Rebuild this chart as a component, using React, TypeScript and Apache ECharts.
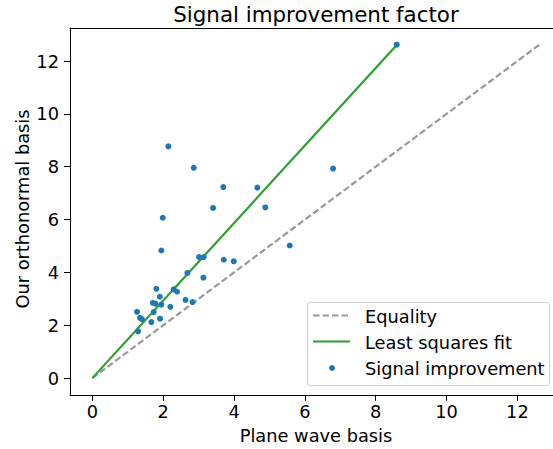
import React, { useEffect, useRef } from "react";
import * as echarts from "echarts";

// Plane wave basis (x) vs our orthonormal basis (y)
const planeWave = [
  2.146, 2.863, 3.698, 4.658, 3.408, 4.884, 1.988, 1.948, 3.012, 3.145,
  3.71, 3.992, 2.682, 3.134, 1.807, 2.298, 2.391, 1.903, 1.705, 1.779,
  1.948, 2.202, 2.631, 2.829, 1.262, 1.733, 1.347, 1.398, 1.666, 1.911,
  1.29, 6.796, 5.573, 8.594,
];
const orthonormal = [
  8.77, 7.96, 7.23, 7.21, 6.44, 6.46, 6.07, 4.83, 4.58, 4.58,
  4.48, 4.42, 3.98, 3.8, 3.38, 3.36, 3.27, 3.08, 2.85, 2.82,
  2.78, 2.7, 2.96, 2.88, 2.51, 2.5, 2.28, 2.23, 2.12, 2.25,
  1.77, 7.93, 5.02, 12.62,
];
const equalityRange = [0, 12.62];
const fitSlope = 1.467;
const fitRange = [0, 8.594];
const xTicks = [0, 2, 4, 6, 8, 10, 12];
const yTicks = [0, 2, 4, 6, 8, 10, 12];
const xMin = -0.631;
const xMax = 13.005; // visible part of the x range (axes continue past the image edge)
const yMin = -0.631;
const yMax = 13.251;

const FONT = "DejaVu Sans";
const FS = 17.8;

export default function App() {
  const ref = useRef<HTMLDivElement>(null);
  useEffect(() => {
    if (!ref.current) return;
    const chart = echarts.init(ref.current, undefined, { renderer: "svg" });
    const scatterData = planeWave.map((x, i) => [x, orthonormal[i]]);
    const equalityData = equalityRange.map((v) => [v, v]);
    const fitData = fitRange.map((v) => [v, v * fitSlope]);
    const spine = { show: true, onZero: false, lineStyle: { color: "#000", width: 1 } };
    chart.setOption({
      animation: false,
      backgroundColor: "#fff",
      grid: {
        left: 70,
        top: 28,
        right: 0,
        height: 366.8,
      },
      xAxis: [
        {
          type: "value",
          min: xMin,
          max: xMax,
          position: "bottom",
          splitLine: { show: false },
          axisLine: spine,
          axisTick: { show: true, length: 6, lineStyle: { color: "#000" }, customValues: xTicks },
          axisLabel: { customValues: xTicks, margin: 8, fontSize: FS, color: "#000", fontFamily: FONT },
        },
        {
          type: "value",
          min: xMin,
          max: xMax,
          position: "top",
          splitLine: { show: false },
          axisLine: spine,
          axisTick: { show: false },
          axisLabel: { show: false },
        },
      ],
      yAxis: {
        type: "value",
        min: yMin,
        max: yMax,
        splitLine: { show: false },
        axisLine: spine,
        axisTick: { show: true, length: 6, lineStyle: { color: "#000" }, customValues: yTicks },
        axisLabel: { customValues: yTicks, margin: 11, fontSize: FS, color: "#000", fontFamily: FONT },
      },
      series: [
        {
          name: "Equality",
          type: "line",
          data: equalityData,
          showSymbol: false,
          symbol: "none",
          lineStyle: { color: "#999999", width: 2.2, type: [6.5, 3] },
          z: 2,
        },
        {
          name: "Least squares fit",
          type: "line",
          data: fitData,
          showSymbol: false,
          symbol: "none",
          lineStyle: { color: "#2ca02c", width: 2.2 },
          z: 3,
        },
        {
          name: "Signal improvement",
          type: "scatter",
          data: scatterData,
          symbol: "circle",
          symbolSize: 6,
          itemStyle: { color: "#1f77b4", opacity: 1 },
          z: 4,
        },
      ],
      graphic: [
        {
          type: "text",
          x: 316,
          y: 14.5,
          style: {
            text: "Signal improvement factor",
            fontSize: 21.4,
            fontFamily: FONT,
            fill: "#000",
            align: "center",
            verticalAlign: "middle",
          },
        },
        {
          type: "text",
          x: 316,
          y: 435,
          style: {
            text: "Plane wave basis",
            fontSize: FS,
            fontFamily: FONT,
            fill: "#000",
            align: "center",
            verticalAlign: "middle",
          },
        },
        {
          type: "text",
          x: 22,
          y: 209,
          rotation: Math.PI / 2,
          style: {
            text: "Our orthonormal basis",
            fontSize: FS,
            fontFamily: FONT,
            fill: "#000",
            align: "center",
            verticalAlign: "middle",
          },
        },
        {
          type: "group",
          z: 100,
          children: [
            {
              type: "rect",
              shape: { x: 307.5, y: 302.5, width: 242, height: 83, r: 3 },
              style: { fill: "rgba(255,255,255,0.8)", stroke: "#d0d0d0", lineWidth: 1 },
            },
            {
              type: "line",
              shape: { x1: 313, y1: 315.5, x2: 350, y2: 315.5 },
              style: { stroke: "#999999", lineWidth: 2.2, lineDash: [6.5, 3] },
            },
            {
              type: "text",
              x: 365,
              y: 316.5,
              style: { text: "Equality", fontSize: FS, fontFamily: FONT, fill: "#000", verticalAlign: "middle" },
            },
            {
              type: "line",
              shape: { x1: 313, y1: 341.5, x2: 350, y2: 341.5 },
              style: { stroke: "#2ca02c", lineWidth: 2.2 },
            },
            {
              type: "text",
              x: 365,
              y: 342,
              style: { text: "Least squares fit", fontSize: FS, fontFamily: FONT, fill: "#000", verticalAlign: "middle" },
            },
            {
              type: "circle",
              shape: { cx: 332, cy: 368, r: 3 },
              style: { fill: "#1f77b4" },
            },
            {
              type: "text",
              x: 365,
              y: 368,
              style: { text: "Signal improvement", fontSize: FS, fontFamily: FONT, fill: "#000", verticalAlign: "middle" },
            },
          ],
        },
      ],
    });
    return () => chart.dispose();
  }, []);
  return (
    <div
      ref={ref}
      style={{ position: "fixed", left: 0, top: 0, width: 553, height: 449 }}
    />
  );
}
